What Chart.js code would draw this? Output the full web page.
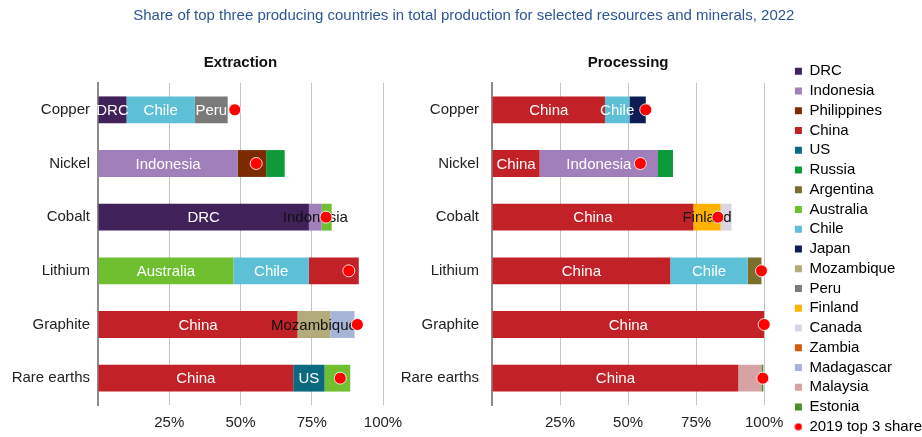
<!DOCTYPE html>
<html>
<head>
<meta charset="utf-8">
<script src="https://cdn.jsdelivr.net/npm/chart.js@4.4.1/dist/chart.umd.min.js"></script>
<style>
  html, body { margin: 0; padding: 0; background: #ffffff; width: 922px; height: 437px; overflow: hidden; }
  #wrap { position: relative; width: 922px; height: 437px; overflow: hidden; }
  canvas { position: absolute; top: 0; }
  #cLeft { left: 0; }
  #cRight { left: 390px; }
</style>
</head>
<body>
<div id="wrap">
  <canvas id="cLeft" width="922" height="439"></canvas>
  <canvas id="cRight" width="542" height="439"></canvas>
</div>
<script>
// ---------------- DATA ----------------
const mainTitle = 'Share of top three producing countries in total production for selected resources and minerals, 2022';
const categories = ['Copper', 'Nickel', 'Cobalt', 'Lithium', 'Graphite', 'Rare earths'];
const xTickLabels = ['', '25%', '50%', '75%', '100%'];

// Extraction (share, %)
const extractionTitle = 'Extraction';
const extractionCountry1 = ['DRC', 'Indonesia', 'DRC', 'Australia', 'China', 'China'];
const extractionShare1   = [10, 49, 74, 47.5, 70, 68.5];
const extractionCountry2 = ['Chile', 'Philippines', 'Indonesia', 'Chile', 'Mozambique', 'US'];
const extractionShare2   = [24, 10, 4.5, 26.5, 11.5, 11];
const extractionCountry3 = ['Peru', 'Russia', 'Australia', 'China', 'Madagascar', 'Australia'];
const extractionShare3   = [11.5, 6.5, 3.5, 17.5, 8.5, 9];
const extraction2019     = [48, 55.5, 80, 88, 91, 85];

// Processing (share, %)
const processingTitle = 'Processing';
const processingCountry1 = ['China', 'China', 'China', 'China', 'China', 'China'];
const processingShare1   = [41.5, 17.5, 74, 65.5, 100, 90.5];
const processingCountry2 = ['Chile', 'Indonesia', 'Finland', 'Chile', null, 'Malaysia'];
const processingShare2   = [9, 43.5, 10, 28.5, 0, 8.5];
const processingCountry3 = ['Japan', 'Russia', 'Canada', 'Argentina', null, 'Estonia'];
const processingShare3   = [6, 5.5, 4, 5, 0, 0.7];
const processing2019     = [56.5, 54.5, 83, 99, 100, 99.5];

const legendCountries = ['DRC', 'Indonesia', 'Philippines', 'China', 'US', 'Russia', 'Argentina',
  'Australia', 'Chile', 'Japan', 'Mozambique', 'Peru', 'Finland', 'Canada', 'Zambia',
  'Madagascar', 'Malaysia', 'Estonia'];
const dotLabel = '2019 top 3 share';

// ---------------- STYLE ----------------
const countryColors = {
  'DRC': '#40215a', 'Indonesia': '#a07fba', 'Philippines': '#7b2a04', 'China': '#c12127',
  'US': '#0b6a80', 'Russia': '#0c9a3a', 'Argentina': '#7b6f2e', 'Australia': '#6fbf30',
  'Chile': '#5ec0d6', 'Japan': '#0e1c55', 'Mozambique': '#b3ab7c', 'Peru': '#7a7a7a',
  'Finland': '#ffb300', 'Canada': '#dad5e2', 'Zambia': '#d55c0f', 'Madagascar': '#a6b4d8',
  'Malaysia': '#d7a2a4', 'Estonia': '#4f8a2b'
};
const dotColor = '#ff0000';
// which segment labels are shown: 'w' white, 'k' dark, '' none  [category][rank]
const extractionLabelStyle = [['w','w','w'], ['w','',''], ['w','k',''], ['w','w',''], ['w','k',''], ['w','w','']];
const processingLabelStyle = [['w','w',''], ['w','w',''], ['w','k',''], ['w','w',''], ['w','',''], ['w','','']];

const FONT = '"Liberation Sans", Arial, Helvetica, sans-serif';
Chart.defaults.font.family = FONT;
Chart.defaults.font.size = 15;
Chart.defaults.color = '#222';
Chart.defaults.animation = false;

const barLabelPlugin = {
  id: 'barLabels',
  afterDatasetDraw(chart, args, opts) {
    if (args.index !== 0) return;
    const ctx = chart.ctx;
    const styles = opts.styles || [];
    ctx.save();
    ctx.font = '15px ' + FONT;
    ctx.textAlign = 'center';
    ctx.textBaseline = 'middle';
    for (let r = 0; r < 3; r++) {
      const meta = chart.getDatasetMeta(r);
      const countries = chart.data.datasets[r].countries;
      meta.data.forEach((bar, i) => {
        const st = styles[i] && styles[i][r];
        if (!st || !countries[i]) return;
        const p = bar.getProps(['x', 'base', 'y'], true);
        ctx.fillStyle = st === 'k' ? '#111111' : '#ffffff';
        ctx.fillText(countries[i], (p.x + p.base) / 2, p.y + 1);
      });
    }
    ctx.restore();
  }
};

function barDataset(shares, countries) {
  return {
    type: 'bar',
    data: shares,
    countries: countries,
    backgroundColor: countries.map(c => c ? countryColors[c] : 'rgba(0,0,0,0)'),
    borderWidth: 0,
    barPercentage: 0.5,
    categoryPercentage: 1.0,
    order: 0
  };
}

function dotDataset(values) {
  return {
    type: 'line',
    label: dotLabel,
    data: values,
    showLine: false,
    pointRadius: 6,
    pointHoverRadius: 6,
    pointBackgroundColor: dotColor,
    pointBorderColor: 'rgba(255,255,255,0.85)',
    pointBorderWidth: 1,
    borderColor: dotColor,
    backgroundColor: dotColor,
    clip: false,
    order: -1
  };
}

function scalesFor(yPadding, yWidth, rightWidth) {
  return {
    y: {
      type: 'category',
      stacked: true,
      grid: { display: false, drawTicks: false },
      border: { display: true, color: '#8c8c8c', width: 2 },
      ticks: { padding: yPadding, color: '#222', font: { size: 15 } },
      afterFit: s => { s.width = yWidth; }
    },
    x: {
      type: 'linear',
      stacked: true,
      min: 0, max: 100,
      grid: {
        drawTicks: false,
        color: c => (c.tick && c.tick.value === 0) ? 'rgba(0,0,0,0)' : '#c4c4c4',
        lineWidth: 1,
        tickBorderDash: [2, 2]
      },
      border: { display: false },
      ticks: {
        stepSize: 25, autoSkip: false, maxRotation: 0, padding: 9, color: '#222',
        font: { size: 15 },
        callback: (v, i) => xTickLabels[i]
      },
      afterFit: s => { s.height = 34; }
    },
    yr: {
      type: 'category',
      position: 'right',
      grid: { display: false, drawTicks: false },
      border: { display: false },
      ticks: { display: false },
      afterFit: s => { s.width = rightWidth; }
    }
  };
}

// ---------------- LEFT: Extraction ----------------
new Chart(document.getElementById('cLeft'), {
  type: 'bar',
  data: {
    labels: categories,
    datasets: [
      barDataset(extractionShare1, extractionCountry1),
      barDataset(extractionShare2, extractionCountry2),
      barDataset(extractionShare3, extractionCountry3),
      dotDataset(extraction2019)
    ]
  },
  options: {
    responsive: false,
    indexAxis: 'y',
    layout: { padding: { left: 12, right: 6.4, top: 0, bottom: 0 } },
    scales: scalesFor(8, 86, 532.6),
    plugins: {
      legend: { display: false },
      tooltip: { enabled: false },
      title: {
        display: true, text: mainTitle, color: '#2f5597',
        font: { size: 15, weight: 'normal' },
        padding: { top: 7, bottom: 15 }
      },
      subtitle: {
        display: true, text: extractionTitle, color: '#111',
        fullSize: false,
        font: { size: 15, weight: 'bold' },
        padding: { top: 14, bottom: 11 }
      },
      barLabels: { styles: extractionLabelStyle }
    }
  },
  plugins: [barLabelPlugin]
});

// ---------------- RIGHT: Processing ----------------
const dotIcon = document.createElement('canvas');
dotIcon.width = 8; dotIcon.height = 8;
(function () {
  const c = dotIcon.getContext('2d');
  c.fillStyle = dotColor;
  c.beginPath(); c.arc(4, 4, 3.6, 0, Math.PI * 2); c.fill();
})();

new Chart(document.getElementById('cRight'), {
  type: 'bar',
  data: {
    labels: categories,
    datasets: [
      barDataset(processingShare1, processingCountry1),
      barDataset(processingShare2, processingCountry2),
      barDataset(processingShare3, processingCountry3),
      dotDataset(processing2019)
    ]
  },
  options: {
    responsive: false,
    indexAxis: 'y',
    layout: { padding: { left: 12, right: 0, top: 40, bottom: 0 } },
    scales: scalesFor(13, 90, 26),
    plugins: {
      tooltip: { enabled: false },
      title: {
        display: true, text: processingTitle, color: '#111',
        fullSize: false,
        font: { size: 15, weight: 'bold' },
        padding: { top: 14, bottom: 11 }
      },
      legend: {
        display: true,
        position: 'right',
        align: 'end',
        maxWidth: 220,
        labels: {
          usePointStyle: true,
          boxWidth: 7,
          boxHeight: 7,
          padding: 4.75,
          color: '#222',
          font: { size: 15 },
          generateLabels: () => {
            const items = legendCountries.map(c => ({
              text: c, fillStyle: countryColors[c], strokeStyle: countryColors[c],
              lineWidth: 0, pointStyle: 'rect', hidden: false
            }));
            items.push({ text: dotLabel, fillStyle: dotColor, strokeStyle: dotColor,
              lineWidth: 0, pointStyle: dotIcon, hidden: false });
            return items;
          }
        }
      },
      barLabels: { styles: processingLabelStyle }
    }
  },
  plugins: [barLabelPlugin]
});
</script>
</body>
</html>
